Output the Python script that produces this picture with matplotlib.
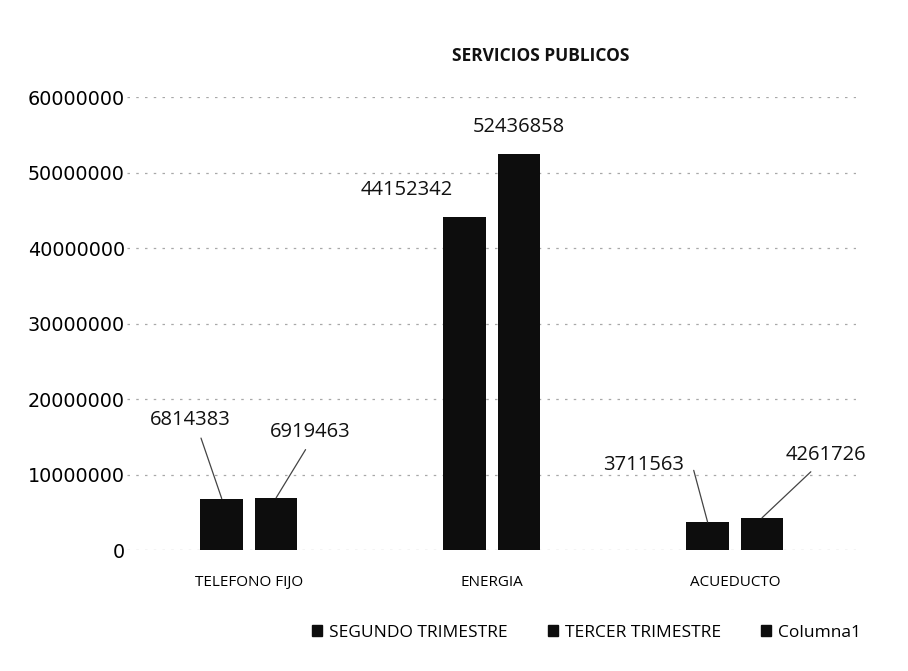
import numpy as np
from matplotlib import pyplot as plt
from matplotlib.patches import Patch

categorias = ["TELEFONO FIJO", "ENERGIA", "ACUEDUCTO"]
segundo_trimestre = [6814383, 44152342, 3711563]
tercer_trimestre = [6919463, 52436858, 4261726]
columna1 = [0, 0, 0]
series_nombres = ["SEGUNDO TRIMESTRE", "TERCER TRIMESTRE", "Columna1"]
y_ticks = [0, 10000000, 20000000, 30000000, 40000000, 50000000, 60000000]

# label placement: offset from bar top (dx, dy), leader line start on the text box (or None)
pos_segundo = [(-0.13, 10400000, (0.6, 0.0)), (-0.24, 3500000, None), (-0.263, 7550000, (1.1, 0.5))]
pos_tercer = [(0.14, 8700000, (0.5, 0.0)), (0.0, 3600000, None), (0.263, 8300000, (0.4, 0.0))]

plt.rcParams['font.family'] = ['Open Sans', 'DejaVu Sans']

fig = plt.figure(figsize=(9.08, 6.71), dpi=100)
ax = fig.add_axes([0.1404, 0.1803, 0.8026, 0.6751])

x = np.arange(len(categorias))
w = 0.175
off = 0.112
ax.bar(x - off, segundo_trimestre, w, color='#0d0d0d', zorder=3)
ax.bar(x + off, tercer_trimestre, w, color='#0d0d0d', zorder=3)
ax.bar(x, columna1, w, color='#0d0d0d', zorder=3)

for xs, vals, pos in [(x - off, segundo_trimestre, pos_segundo),
                      (x + off, tercer_trimestre, pos_tercer)]:
    for xi, v, (dx, dy, rp) in zip(xs, vals, pos):
        arrow = None
        if rp is not None:
            arrow = dict(arrowstyle='-', color='#444444', lw=0.9,
                         shrinkA=4, shrinkB=0, relpos=rp)
        ax.annotate(str(v), xy=(xi, v), xytext=(xi + dx, v + dy),
                    ha='center', va='center', fontsize=14.5, color='#111111',
                    zorder=5, arrowprops=arrow)

ax.set_xlim(-0.5, 2.5)
ax.set_ylim(0, 60000000)
ax.set_yticks(y_ticks)
ax.set_yticklabels([str(t) for t in y_ticks], family='DejaVu Sans', fontsize=13.8)
ax.set_xticks(x)
ax.set_xticklabels(categorias, fontsize=11)
ax.tick_params(length=0)
ax.tick_params(axis='x', pad=18)
ax.tick_params(axis='y', pad=2)
for s in ax.spines.values():
    s.set_visible(False)
ax.yaxis.grid(True, color='#a8a8a8', linestyle=(0, (2, 5)), lw=0.9, zorder=0)

fig.text(0.595, 0.9165, "SERVICIOS PUBLICOS", ha='center', va='center',
         fontsize=12.5, fontweight='bold', color='#111111')

handles = [Patch(color='#0d0d0d') for _ in series_nombres]
fig.legend(handles, series_nombres, loc='center', bbox_to_anchor=(0.646, 0.057),
           ncol=3, frameon=False, fontsize=12.5, handlelength=0.6,
           handleheight=0.6, handletextpad=0.4, columnspacing=2.3)

plt.savefig('out.png')
